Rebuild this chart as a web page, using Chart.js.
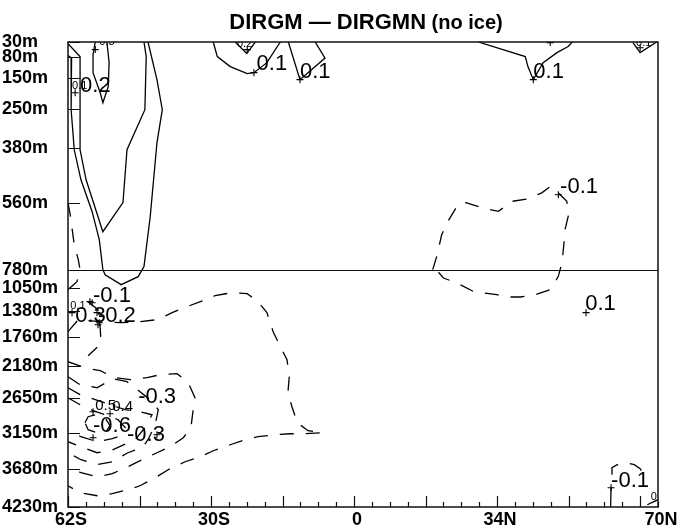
<!DOCTYPE html>
<html>
<head>
<meta charset="utf-8">
<script src="https://cdn.jsdelivr.net/npm/chart.js@4.4.1/dist/chart.umd.min.js"></script>
<style>
  html, body { margin: 0; padding: 0; background: #fff; }
  #wrap { width: 683px; height: 527px; position: relative; }
</style>
</head>
<body>
<div id="wrap"><canvas id="chart" width="683" height="527"></canvas></div>
<script>
// ---- axes -------------------------------------------------------------
// model depth levels (m) shown on the vertical axis
const depthLevels = [30, 80, 150, 250, 380, 560, 780, 1050, 1380, 1760, 2180, 2650, 3150, 3680, 4230];
// labelled latitude positions and their labels
const latTickValues = [-62, -30, 2, 34, 70];
const latTickLabels = ['62S', '30S', '0', '34N', '70N'];

// ---- contour lines: [latitude, depth(m)] -------------------------------
// positive (solid)
const pos01West = [[-62, 75], [-61.2, 82], [-61.3, 253], [-60.6, 385], [-59.1, 484], [-56.6, 589], [-55.0, 681],
  [-54.2, 780], [-53.7, 853], [-50.1, 998], [-46.3, 882], [-45.0, 770], [-43.6, 605], [-42.1, 362],
  [-40.9, 253], [-42.1, 154], [-44.1, 30]];
const pos02West = [[-62, 36], [-59.3, 78], [-59.3, 385], [-57.95, 484], [-54.2, 655], [-49.7, 559],
  [-48.8, 385], [-44.8, 253], [-44.5, 78], [-45.0, 30]];
const pos03West = [[-55.9, 30], [-56.4, 72], [-56.4, 131], [-54.8, 197], [-54.2, 230], [-53.0, 177],
  [-52.8, 98], [-53.3, 30]];
const pos01Trop = [[-29.5, 30], [-28.6, 78], [-25.7, 111], [-21.9, 134], [-20.4, 131], [-17.5, 98], [-14.5, 30]];
const pos02Trop = [[-24.6, 30], [-22.0, 68], [-20.1, 30]];
const pos01Equ = [[-12.7, 30], [-10.1, 154], [-4.5, 83], [-6.7, 30]];
const pos01North = [[29.8, 30], [40.3, 78], [40.9, 111], [42.1, 154], [44.3, 98], [47.4, 65], [49.9, 45], [50.8, 30]];
const pos01Arctic = [[64.4, 32], [66.0, 65], [69.7, 30]];
const posStubA = [[59.5, 3950], [59.4, 4230]];
const posStubB = [[67.6, 4197], [70, 4124]];

// negative (dashed)
const neg01North = [[19.6, 780], [20.5, 736], [21.6, 665], [22.8, 626], [25.0, 572], [26.1, 558], [27.2, 560],
  [30.9, 577], [34.3, 588], [37.3, 555], [40.7, 547], [44.0, 527], [45.9, 506], [47.0, 517], [49.6, 555],
  [50.0, 599], [49.2, 648], [48.9, 703], [48.5, 758], [48.1, 780], [47.7, 877], [45.9, 1071], [42.5, 1144],
  [39.2, 1177], [36.2, 1177], [33.9, 1144], [28.7, 1096], [25.0, 973], [22.0, 901], [19.8, 770], [19.6, 780]];
const neg01Edge = [[-62, 560], [-61.5, 599], [-60.6, 698], [-59.7, 747], [-59.3, 780], [-60.0, 954], [-62, 1071]];
const negOuter = [[-62, 1681], [-59.7, 1507], [-54.8, 1536], [-50.3, 1551], [-45.9, 1536], [-42.1, 1507],
  [-38.7, 1405], [-35.4, 1318], [-32.4, 1245], [-29.1, 1158], [-25.3, 1114], [-21.9, 1129], [-19.5, 1245],
  [-17.5, 1405], [-16.1, 1681], [-14.5, 1900], [-13.0, 2089], [-12.5, 2336], [-12.8, 2568], [-11.9, 2772],
  [-10.7, 3005], [-8.3, 3121], [-5.1, 3150], [-9.0, 3165], [-12.3, 3165], [-15.7, 3179], [-19.5, 3208],
  [-22.4, 3252], [-25.7, 3325], [-29.5, 3412], [-32.4, 3499], [-35.8, 3572], [-39.6, 3688], [-42.1, 3790],
  [-45.9, 3921], [-48.6, 3979], [-52.1, 4037], [-55.5, 4066], [-59.3, 4024], [-62, 3921]];
const negSecond = [[-62, 2118], [-58.2, 2205], [-54.8, 2249], [-51.5, 2350], [-48.1, 2379], [-44.3, 2350],
  [-41.4, 2307], [-37.6, 2292], [-35.1, 2423], [-33.6, 2641], [-34.0, 2816], [-34.5, 3077], [-36.2, 3223],
  [-39.2, 3354], [-42.1, 3441], [-45.4, 3543], [-48.6, 3644], [-52.1, 3746], [-55.5, 3790], [-59.1, 3732], [-62, 3644]];
const negBranch = [[-57.5, 1245], [-55.3, 1362], [-54.8, 1623], [-54.6, 1855], [-57.5, 2031]];
const neg03 = [[-62, 2336], [-59.3, 2452], [-55.5, 2496], [-51.9, 2365], [-48.8, 2408], [-45.9, 2554],
  [-43.6, 2670], [-41.8, 2816], [-42.5, 3034], [-44.1, 3252], [-45.4, 3368], [-48.6, 3441], [-52.1, 3572],
  [-55.5, 3615], [-59.1, 3543], [-62, 3441]];
const neg04 = [[-62, 2496], [-59.3, 2597], [-55.9, 2670], [-52.6, 2743], [-49.2, 2816], [-45.9, 2845],
  [-43.2, 2889], [-44.8, 3077], [-47.0, 3252], [-51.9, 3397], [-55.5, 3441], [-59.1, 3354], [-62, 3281]];
const neg05 = [[-62, 2641], [-59.3, 2743], [-56.4, 2830], [-53.7, 2889], [-50.8, 2961], [-49.2, 3077],
  [-50.3, 3194], [-52.1, 3237], [-55.5, 3281], [-59.1, 3208], [-62, 3106]];
const neg06 = [[-58.2, 3005], [-57.5, 2918], [-55.9, 2889], [-53.7, 2932], [-52.6, 3048], [-53.5, 3136],
  [-55.5, 3150], [-57.5, 3106], [-58.2, 3005]];
const negArctic = [[59.7, 3761], [59.7, 3659], [60.9, 3615], [62.9, 3586], [64.7, 3615], [66.0, 3673], [67.1, 3775]];

// ---- contour labels: [latitude, depth(m), text] -------------------------
const bigLabels = [
  [-59.3, 194, '0.2'], [-19.8, 121, '0.1'], [-10.1, 148, '0.1'], [42.1, 148, '0.1'], [48.1, 527, '-0.1'],
  [-56.4, 1245, '-0.1'], [-60.4, 1536, '0.3'], [-55.3, 1536, '-0.2'], [-46.3, 2714, '-0.3'],
  [-56.4, 3136, '-0.6'], [-48.8, 3266, '-0.3'], [53.7, 1362, '0.1'], [59.5, 3935, '-0.1']
];
const midLabels = [[-55.9, 2816, '0.5'], [-52.1, 2830, '0.4']];
const smallLabels = [
  [-55.0, 39, '0.3'], [-24.2, 47, '0.2'], [65.1, 42, '0.1'], [-61.1, 186, '0.1'], [-61.5, 1347, '0.1'], [68.4, 4124, '0']
];
// label anchor marks: [latitude, depth(m)]
const labelMarks = [
  [-55.9, 55], [-60.4, 197], [-20.4, 131], [-10.1, 154], [42.1, 154], [47.7, 533], [45.9, 32], [66.0, 49],
  [-21.9, 55], [53.9, 1405], [59.5, 3950], [-56.6, 1260], [-61.1, 1405], [-55.3, 1580], [-57.1, 1245],
  [-55.5, 1405], [-55.0, 1551], [-56.4, 2845], [-52.6, 2874], [-56.4, 3223], [-42.1, 3179]
];

// ---- vertical axis: the deep section is compressed below 780 m ---------
const SPLIT_DEPTH = 780;
const DEEP_FACTOR = 0.2266;
const zAxis = d => d <= SPLIT_DEPTH ? d : SPLIT_DEPTH + (d - SPLIT_DEPTH) * DEEP_FACTOR;

const positive = [pos01West, pos02West, pos03West, pos01Trop, pos02Trop, pos01Equ, pos01North, pos01Arctic, posStubA, posStubB];
const negative = [neg01North, neg01Edge, negOuter, negSecond, negBranch, neg03, neg04, neg05, neg06, negArctic];

const toXY = pts => pts.map(([lat, d]) => ({ x: lat, y: zAxis(d) }));
const lineStyle = { borderColor: '#000', borderWidth: 1.3, showLine: true, pointRadius: 0, fill: false, tension: 0 };

const datasets = [];
positive.forEach(p => datasets.push(Object.assign({ data: toXY(p) }, lineStyle)));
negative.forEach(p => datasets.push(Object.assign({ data: toXY(p), borderDash: [14, 12] }, lineStyle)));
datasets.push({
  data: toXY(labelMarks), showLine: false, pointStyle: 'cross', pointRadius: 3.5,
  borderColor: '#000', borderWidth: 1.1, pointBorderColor: '#000'
});

const FONT = '"Liberation Sans", Arial, Helvetica, sans-serif';

const decorations = {
  id: 'decorations',
  afterDatasetsDraw(chart) {
    const { ctx, chartArea: a, scales: { x, y } } = chart;
    ctx.save();
    // contour labels
    ctx.beginPath();
    ctx.rect(a.left, a.top, a.right - a.left, a.bottom - a.top);
    ctx.clip();
    ctx.fillStyle = '#000';
    ctx.textAlign = 'left';
    ctx.textBaseline = 'alphabetic';
    const put = (list, size) => {
      ctx.font = size + 'px ' + FONT;
      list.forEach(([lat, d, t]) => ctx.fillText(t, x.getPixelForValue(lat), y.getPixelForValue(zAxis(d))));
    };
    put(bigLabels, 22);
    put(midLabels, 15);
    put(smallLabels, 11);
    ctx.restore();

    ctx.save();
    ctx.strokeStyle = '#111';
    ctx.lineWidth = 1.2;
    // inward ticks on the depth axis
    ctx.beginPath();
    depthLevels.forEach(d => {
      const py = Math.round(y.getPixelForValue(zAxis(d))) + 0.5;
      ctx.moveTo(a.left, py);
      ctx.lineTo(a.left + 12, py);
    });
    // inward ticks on the latitude axis: every 4 degrees, longer every 16
    for (let lat = -62; lat <= 70; lat += 4) {
      const px = Math.round(x.getPixelForValue(lat)) + 0.5;
      const len = ((lat + 62) % 16 === 0) ? 11 : 5;
      ctx.moveTo(px, a.bottom);
      ctx.lineTo(px, a.bottom - len);
    }
    ctx.stroke();
    // line separating the upper and deep sections
    ctx.beginPath();
    const ys = Math.round(y.getPixelForValue(zAxis(SPLIT_DEPTH))) + 0.5;
    ctx.moveTo(a.left, ys);
    ctx.lineTo(a.right, ys);
    ctx.stroke();
    // frame
    ctx.lineWidth = 1.5;
    ctx.strokeRect(a.left, a.top, a.right - a.left, a.bottom - a.top);
    ctx.restore();
  },
  afterDraw(chart) {
    const { ctx } = chart;
    ctx.save();
    ctx.fillStyle = '#000';
    ctx.textBaseline = 'alphabetic';
    const main = 'DIRGM \u2014 DIRGMN';
    const sub = ' (no ice)';
    ctx.font = 'bold 22px ' + FONT;
    const w1 = ctx.measureText(main).width;
    ctx.font = 'bold 20px ' + FONT;
    const w2 = ctx.measureText(sub).width;
    const x0 = 366 - (w1 + w2) / 2;
    ctx.font = 'bold 22px ' + FONT;
    ctx.fillText(main, x0, 29);
    ctx.font = 'bold 20px ' + FONT;
    ctx.fillText(sub, x0 + w1, 29);
    ctx.restore();
  }
};

new Chart(document.getElementById('chart'), {
  type: 'scatter',
  data: { datasets },
  plugins: [decorations],
  options: {
    responsive: false,
    animation: false,
    layout: { padding: { top: 42, right: 25, left: 2, bottom: 0 } },
    plugins: { legend: { display: false }, tooltip: { enabled: false }, title: { display: false } },
    scales: {
      x: {
        type: 'linear', min: -62, max: 70,
        grid: { display: false }, border: { display: false },
        afterBuildTicks: s => { s.ticks = latTickValues.map(v => ({ value: v })); },
        afterFit: s => { s.height = 20; },
        ticks: {
          autoSkip: false, maxRotation: 0, padding: -6, labelOffset: 3, color: '#000',
          font: { family: FONT, weight: 'bold', size: 18 },
          callback: (v, i) => latTickLabels[i]
        }
      },
      y: {
        type: 'linear', reverse: true, min: zAxis(30), max: zAxis(4230),
        grid: { display: false }, border: { display: false },
        afterBuildTicks: s => { s.ticks = depthLevels.map(d => ({ value: zAxis(d) })); },
        afterFit: s => { s.width = 66; },
        ticks: {
          autoSkip: false, crossAlign: 'far', color: '#000',
          font: { family: FONT, weight: 'bold', size: 18 },
          callback: (v, i) => depthLevels[i] + 'm'
        }
      }
    }
  }
});
</script>
</body>
</html>
